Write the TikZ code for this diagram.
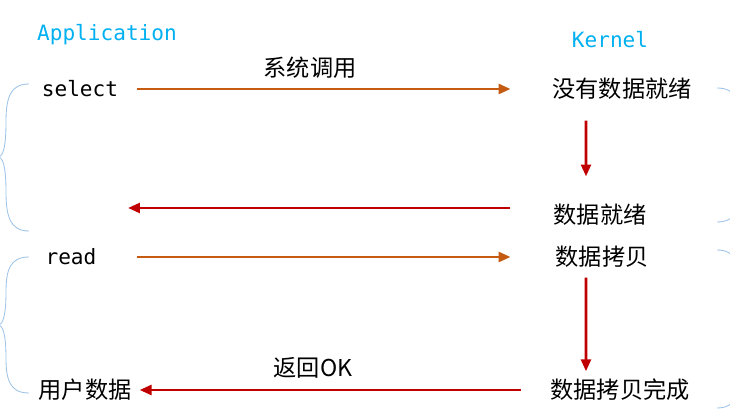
\documentclass[tikz,border=0pt]{standalone}
\usepackage{fontspec}
\setmonofont{DejaVu Sans Mono}
\newfontfamily\cjk{Noto Sans CJK SC}
\usetikzlibrary{arrows.meta}
\definecolor{appblue}{HTML}{00B0F0}
\definecolor{callorange}{HTML}{C55A11}
\definecolor{backred}{HTML}{C00000}
\definecolor{bracecol}{HTML}{9DC3E6}
\begin{document}
\begin{tikzpicture}[x=0.025cm,y=-0.025cm,line width=.7mm,
   sidename/.style={text=appblue,font=\ttfamily\fontsize{15}{18}\selectfont,inner sep=0},
   callname/.style={font=\ttfamily\fontsize{15}{18}\selectfont,inner sep=0},
   kstate/.style={font=\cjk\fontsize{16.5}{20}\selectfont,inner sep=0},
   tocall/.style={draw=callorange,-{Triangle[length=8.5pt,width=7pt]}},
   toback/.style={draw=backred,-{Triangle[length=8.5pt,width=7pt]}},
   curly/.style={draw=bracecol,line width=.6pt}]

   \useasboundingbox (0,0) rectangle (730,411);
   \clip (0,0) rectangle (730,411);

     \path (107,35) node[sidename] (app) {Application};
     \path (610,40) node[sidename] (kernel) {Kernel};

     \path (80,89) node[callname] (select) {select};
     \path (71,257) node[callname] (read) {read};
     \path (85,390) node[kstate] (userdata) {用户数据};

     \path (622,89) node[kstate] (nodata) {没有数据就绪};
     \path (600,215) node[kstate] (ready) {数据就绪};
     \path (602,257) node[kstate] (copy) {数据拷贝};
     \path (620,390) node[kstate] (done) {数据拷贝完成};

     \path (310,68) node[kstate] (syscall) {系统调用};
     \path (313,368) node[kstate] (retok) {返回OK};

     \coordinate (readyback) at (128,208);

      \draw[tocall,shorten <=0.43cm,shorten >=1.01cm] (select.east) -- (nodata.west);
      \draw[toback,shorten <=0.49cm,shorten >=0.66cm] ([xshift=-0.9cm]nodata.south) -- ([xshift=-0.35cm]ready.north);
      \draw[toback,shorten <=1.05cm] (ready.west |- readyback) -- (readyback);
      \draw[tocall,shorten <=0.97cm,shorten >=1.09cm] (read.east) -- (copy.west);
      \draw[toback,shorten <=0.21cm,shorten >=0.16cm] ([xshift=-0.4cm]copy.south) -- ([xshift=-0.85cm]done.north);
      \draw[toback,shorten <=0.71cm,shorten >=0.17cm] (done.west) -- (userdata.east);

      % braces
      \draw[curly] (29,84) .. controls (10,84) and (6,98) .. (6,122) .. controls (6,147) and (3,157) .. (-2,157)
         .. controls (3,157) and (6,167) .. (6,192) .. controls (6,216) and (10,231) .. (29,231);
      \draw[curly] (29,257) .. controls (10,257) and (6,270) .. (6,292) .. controls (6,315) and (3,325) .. (-2,325)
         .. controls (3,325) and (6,335) .. (6,358) .. controls (6,380) and (10,393) .. (29,393);
      \draw[curly] (717,88) .. controls (736,88) and (740,101) .. (740,124) .. controls (740,146) and (743,155) .. (748,155)
         .. controls (743,155) and (740,164) .. (740,186) .. controls (740,209) and (736,222) .. (717,222);
      \draw[curly] (717,250) .. controls (736,250) and (740,264) .. (740,290) .. controls (740,319) and (743,329) .. (748,329)
         .. controls (743,329) and (740,339) .. (740,368) .. controls (740,394) and (736,408) .. (717,408);

   \end{tikzpicture}
\end{document}
